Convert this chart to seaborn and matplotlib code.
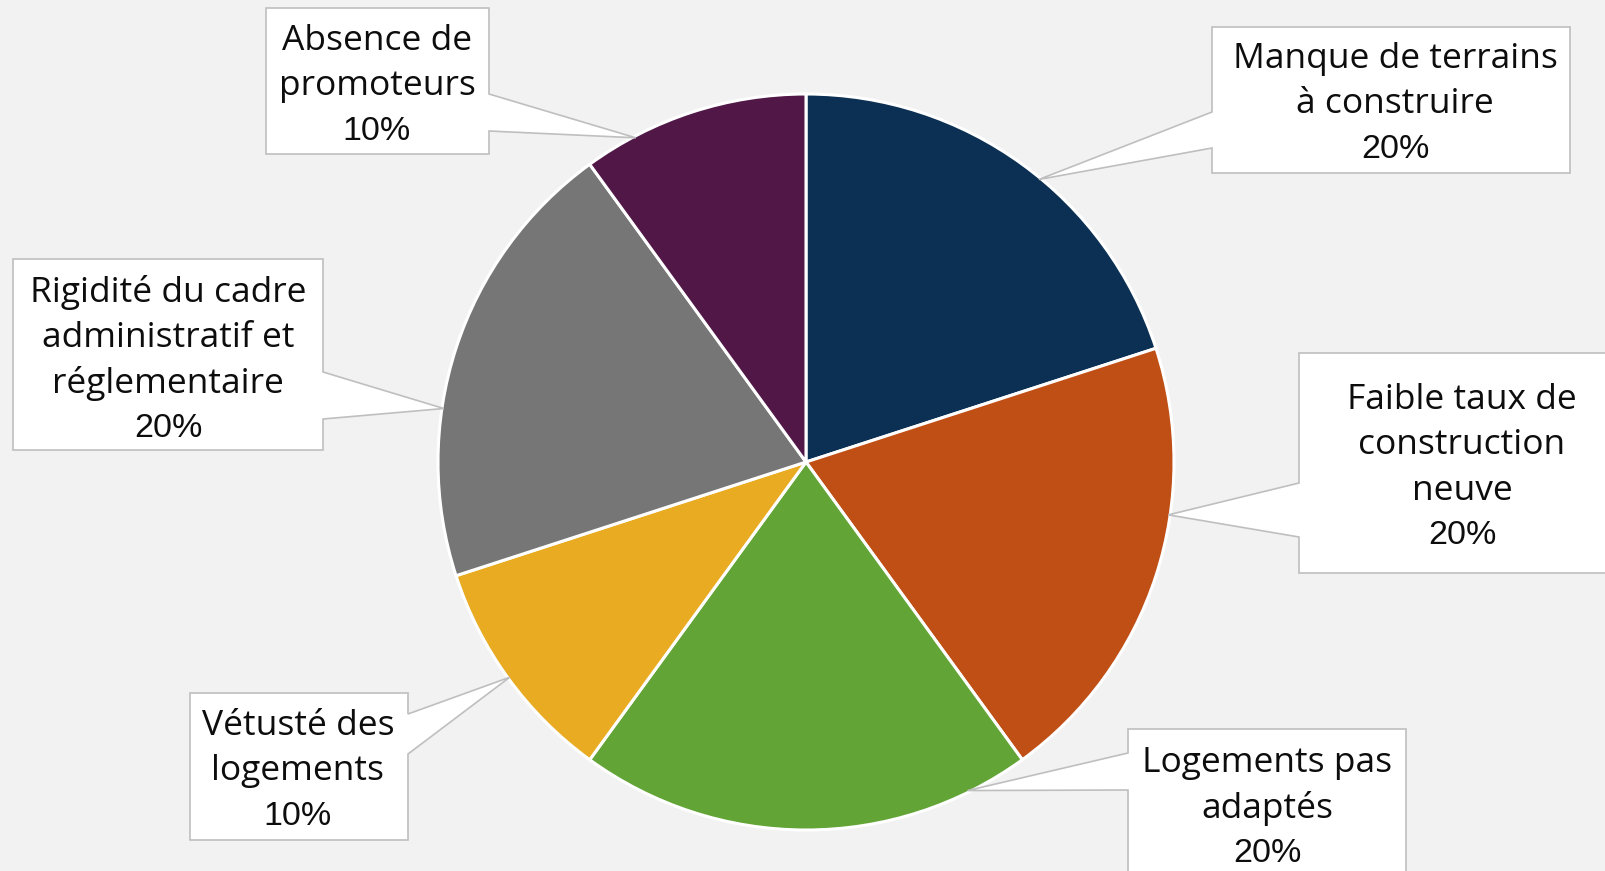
import numpy as np
import seaborn as sns
import matplotlib.pyplot as plt
from matplotlib.patches import Polygon

# data
categories = [
    "Manque de terrains\nà construire",
    "Faible taux de\nconstruction\nneuve",
    "Logements pas\nadaptés",
    "Vétusté des\nlogements",
    "Rigidité du cadre\nadministratif et\nréglementaire",
    "Absence de\npromoteurs",
]
shares = [20, 20, 20, 10, 20, 10]
colors = ["#0B3054", "#C04F15", "#63A437", "#E8AB22", "#767676", "#501747"]

W, H = 1606, 871
BG = "#F2F2F2"
CENTER = (806, H - 462)
RADIUS = 368

# callout layout in pixels (y down): box, side of pointer, pointer base, tip angle, text x, first line y
callouts = [
    dict(box=(1212, 1570, 27, 173), side="left", base=(112, 148), ang=50.5, tx=1395, ty=55),
    dict(box=(1299, 1640, 353, 573), side="left", base=(483, 537), ang=-8.3, tx=1462, ty=396),
    dict(box=(1128, 1406, 729, 900), side="left", base=(753, 790), ang=-63.8, tx=1267, ty=759),
    dict(box=(190, 408, 693, 840), side="right", base=(714, 754), ang=216.0, tx=298, ty=722),
    dict(box=(13, 323, 259, 450), side="right", base=(372, 419), ang=171.6, tx=168, ty=289),
    dict(box=(266, 489, 8, 154), side="right", base=(94, 131), ang=117.7, tx=377, ty=37),
]
LINE_STEP = 45.3
TEXT_SHIFT = 4

sns.set_style("white")
plt.rcParams["font.family"] = ["Open Sans", "DejaVu Sans"]

fig = plt.figure(figsize=(W / 100, H / 100), dpi=100, facecolor=BG)
ax = fig.add_axes([0, 0, 1, 1])
ax.set_facecolor(BG)

ax.pie(shares, colors=sns.color_palette(colors), startangle=90, counterclock=False,
       center=CENTER, radius=RADIUS,
       wedgeprops=dict(edgecolor="white", linewidth=2.2))

for cat, val, c in zip(categories, shares, callouts):
    x0, x1, y0, y1 = c["box"]
    b1, b2 = c["base"]
    a = np.deg2rad(c["ang"])
    tip = (CENTER[0] + RADIUS * 0.995 * np.cos(a), CENTER[1] + RADIUS * 0.995 * np.sin(a))
    if c["side"] == "left":
        pts = [(x0, y0), (x1, y0), (x1, y1), (x0, y1), (x0, b2), None, (x0, b1)]
    else:
        pts = [(x0, y0), (x1, y0), (x1, b1), None, (x1, b2), (x1, y1), (x0, y1)]
    verts = [tip if p is None else (p[0], H - p[1]) for p in pts]
    ax.add_patch(Polygon(verts, closed=True, facecolor="white", edgecolor="#BFBFBF",
                         linewidth=1.2, zorder=3))

    lines = cat.split("\n")
    ty = c["ty"] + TEXT_SHIFT
    for i, line in enumerate(lines):
        ax.text(c["tx"], H - (ty + i * LINE_STEP), line, ha="center", va="center",
                fontsize=25.5, color="#0D0D0D", zorder=4)
    ax.text(c["tx"], H - (ty + len(lines) * LINE_STEP), f"{val}%", ha="center",
            va="center", fontsize=24.5, color="#0D0D0D", family="Liberation Sans", zorder=4)

ax.set_xlim(0, W)
ax.set_ylim(0, H)
ax.set_aspect("auto")
ax.axis("off")

fig.savefig("out.png", dpi=100, facecolor=BG)
